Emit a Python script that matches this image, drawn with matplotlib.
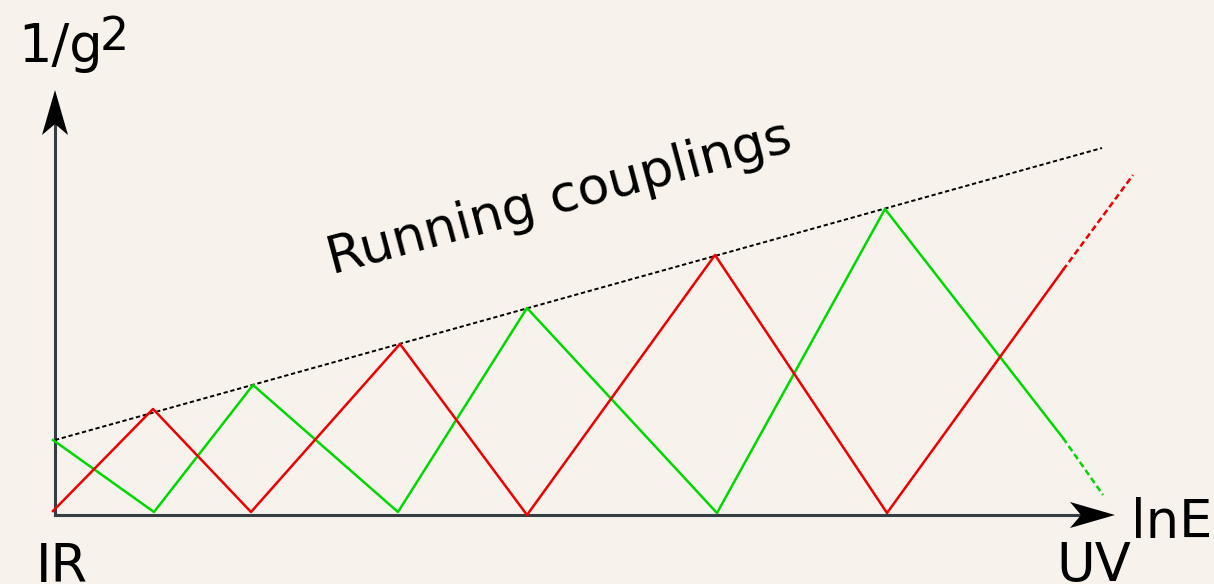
import matplotlib.pyplot as plt
from matplotlib.patches import Polygon

# --- Data (x = lnE, y = 1/g^2, arbitrary units) ---
red_x = [-0.02, 0.98, 1.96, 3.45, 4.72, 6.60, 8.32, 10.08]
red_y = [0.04, 1.06, 0.03, 1.71, 0.00, 2.60, 0.02, 2.45]
red_ext_x = [10.08, 10.78]
red_ext_y = [2.45, 3.40]

green_x = [-0.02, 0.99, 1.98, 3.43, 4.72, 6.62, 8.30, 10.08]
green_y = [0.75, 0.03, 1.30, 0.03, 2.07, 0.02, 3.06, 0.77]
green_ext_x = [10.08, 10.48]
green_ext_y = [0.77, 0.20]

env_x = [0.0, 10.47]
env_y = [0.75, 3.67]

x_axis_end = 10.60
y_axis_end = 4.25

bg = '#f7f3ec'
red = '#ee0000'
green = '#00d900'
axis_col = '#343e43'

fig = plt.figure(figsize=(12.14, 5.84), dpi=100, facecolor=bg)
ax = fig.add_axes([0, 0, 1, 1])
ax.set_facecolor(bg)
ax.set_xlim(-0.55, 11.59)
ax.set_ylim(-0.69, 5.15)
ax.axis('off')

# axes lines
ax.plot([0, 0], [0, y_axis_end - 0.2], color=axis_col, lw=2.2, solid_capstyle='projecting', zorder=2)
ax.plot([0, x_axis_end - 0.2], [0, 0], color=axis_col, lw=2.2, solid_capstyle='projecting', zorder=2)

# stealth arrowheads
L, W, N = 0.45, 0.13, 0.34
ax.add_patch(Polygon([(0, y_axis_end), (-W, y_axis_end - L), (0, y_axis_end - N), (W, y_axis_end - L)],
                     closed=True, color='black', lw=0, zorder=3))
ax.add_patch(Polygon([(x_axis_end, 0), (x_axis_end - L, W), (x_axis_end - N, 0), (x_axis_end - L, -W)],
                     closed=True, color='black', lw=0, zorder=3))

# envelope
ax.plot(env_x, env_y, color='black', lw=1.4, linestyle=(0, (2.2, 1.4)), zorder=4)

# zigzags
ax.plot(green_x, green_y, color=green, lw=1.8, zorder=5)
ax.plot(green_ext_x, green_ext_y, color=green, lw=1.8, linestyle=(0, (2.5, 1.4)), zorder=5)
ax.plot(red_x, red_y, color=red, lw=1.8, zorder=6)
ax.plot(red_ext_x, red_ext_y, color=red, lw=1.8, linestyle=(0, (2.5, 1.4)), zorder=6)

# labels
ax.text(-0.37, 4.53, '1/g', fontsize=38, ha='left', va='baseline')
ax.text(0.45, 4.65, '2', fontsize=33, ha='left', va='baseline')
ax.text(10.76, -0.23, 'lnE', fontsize=38, ha='left', va='baseline')
ax.text(-0.19, -0.665, 'IR', fontsize=38, ha='left', va='baseline')
ax.text(10.01, -0.665, 'UV', fontsize=38, ha='left', va='baseline')
ax.text(5.08, 3.03, 'Running couplings', fontsize=37.5, rotation=15,
        rotation_mode='anchor', ha='center', va='baseline')

fig.savefig('out.png', dpi=100, facecolor=bg)
